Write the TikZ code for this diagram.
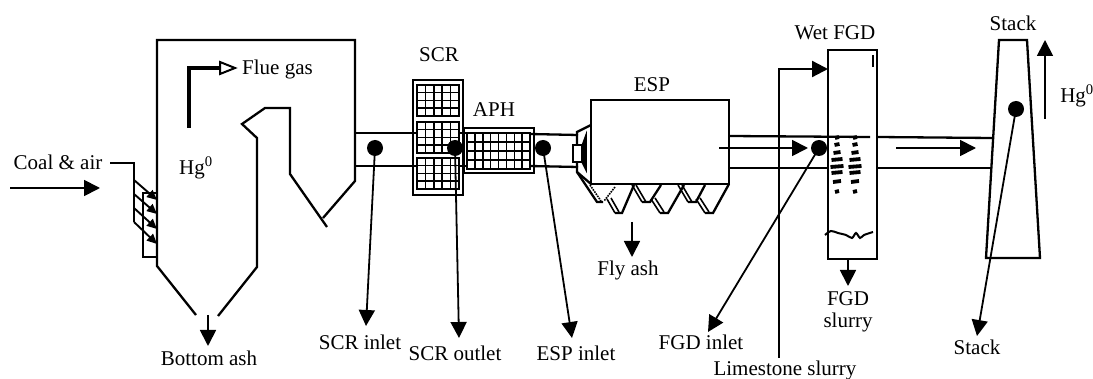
\documentclass[tikz,border=0pt]{standalone}
\usepackage{fontspec}
\setmainfont{Liberation Serif}
\usetikzlibrary{arrows.meta}
\tikzset{
  wall/.style={black, line width=2.3pt, line join=miter},
  duct/.style={black, line width=2.3pt},
  flowarrow/.style={black, line width=1.8pt, -{Triangle[length=16pt,width=16pt]}},
  burner/.style={black, line width=1.9pt, -{Triangle[length=10pt,width=9pt]}},
  hopperline/.style={black, line width=1.6pt},
  probe/.style={circle, fill=black, inner sep=0pt, minimum size=16pt},
  tag/.style={font=\fontsize{21}{24}\selectfont, text=black, inner sep=0pt},
  gridframe/.style={black, line width=2.3pt},
  gridline/.style={black, line width=1.5pt}
}
\newcommand{\catalyst}[6]{
  \foreach \k in {1,...,#5} \draw[gridline] ({#1+\k*(#3-#1)/(#5+1)},#2) -- ({#1+\k*(#3-#1)/(#5+1)},#4);
  \foreach \k in {1,...,#6} \draw[gridline] (#1,{#2+\k*(#4-#2)/(#6+1)}) -- (#3,{#2+\k*(#4-#2)/(#6+1)});
  \draw[gridframe] (#1,#2) rectangle (#3,#4);
}
\begin{document}
\begin{tikzpicture}[x=1pt, y=-1pt]
  \useasboundingbox (0,0) rectangle (1093,379);
  \draw[wall] (196,315) -- (157,266) -- (157,40) -- (355,40) -- (355,181) -- (323,218);
  \draw[wall] (327,227) -- (290,174) -- (290,108) -- (265,108) -- (242,124) -- (257,138) -- (257,267) -- (218,316);
  \draw[black, line width=4.5pt] (189,128) -- (189,68) -- (222,68);
  \draw[black, line width=2pt, fill=white] (220,62) -- (235,68) -- (220,74) -- cycle;
  \draw[wall] (110,163) -- (134,163) -- (134,222);
  \draw[wall] (157,193) -- (143,193) -- (143,257) -- (157,257);
  \draw[burner] (134,180) -- (157,200);
  \draw[burner] (134,194) -- (157,214);
  \draw[burner] (134,208) -- (157,229);
  \draw[burner] (134,222) -- (157,244);
  \draw[duct] (355,133) -- (417,133);
  \draw[duct] (355,166) -- (417,166);
  \draw[duct] (459,133) -- (467,133);
  \draw[duct] (459,166) -- (467,166);
  \draw[duct] (530,134) -- (578,135);
  \draw[duct] (530,166) -- (578,167);
  \draw[wall] (413,80) rectangle (463,195);
  \catalyst{417}{85}{459}{116}{4}{3}
  \catalyst{417}{122}{459}{153}{4}{3}
  \catalyst{417}{158}{459}{189}{4}{3}
  \draw[wall] (464,128) rectangle (534,173);
  \catalyst{467}{133}{530}{169}{7}{3}
  \draw[wall] (591,100) rectangle (729,184);
  \draw[wall] (591,125) -- (577,132) -- (577,172) -- (591,184);
  \draw[black, line width=1.8pt, fill=white] (573,145) rectangle (582,162);
  \draw[black, line width=1.5pt, fill=black] (582,146) -- (586,135) -- (586,170) -- (582,162) -- cycle;
  \draw[wall] (577,172) -- (597,202) -- (603,202);
  \draw[hopperline, densely dotted] (590,185) -- (601,201);
  \draw[hopperline, densely dotted] (615,187) -- (604,201);
  \draw[hopperline] (607,199) -- (615,213);
  \draw[hopperline] (611,198) -- (619,212);
  \draw[wall] (615,213) -- (622,213) -- (634,185);
  \draw[hopperline] (632,185) -- (642,202);
  \draw[hopperline] (636,185) -- (646,202);
  \draw[wall] (642,202) -- (650,202) -- (661,185);
  \draw[hopperline] (651,199) -- (660,213);
  \draw[hopperline] (655,198) -- (664,212);
  \draw[wall] (660,213) -- (668,213) -- (684,185);
  \draw[hopperline] (678,185) -- (688,202);
  \draw[hopperline] (682,185) -- (692,202);
  \draw[wall] (688,202) -- (696,202) -- (705,185);
  \draw[hopperline] (696,199) -- (705,213);
  \draw[hopperline] (700,198) -- (709,212);
  \draw[wall] (705,213) -- (713,213) -- (729,184);
  \draw[duct] (729,136) -- (870,137);
  \draw[duct] (729,168) -- (828,168);
  \draw[duct] (877,137) -- (992,138);
  \draw[duct] (877,168) -- (991,168);
  \draw[wall] (828,50) rectangle (877,259);
  \draw[black, line width=2pt] (873,55) -- (873,67);
  \foreach \sx in {837,855} {
    \foreach \sy/\sw in {138/4,145/5,153/7,160/11,167/13,173/11,182/8,192/4} {
      \draw[black, line width=3.8pt] ({\sx-\sw/2},\sy) -- ({\sx+\sw/2},{\sy-1});
    }
  }
  \draw[black, line width=2pt] plot[smooth] coordinates {(825,235) (831,231) (838,233) (846,235) (852,238) (856,233) (860,238) (864,235) (873,232)};
  \draw[wall] (999,40) -- (1027,40) -- (1040,258) -- (986,258) -- cycle;
  \node[probe] (scrinlet) at (375,148) {};
  \node[probe] (scroutlet) at (455,148) {};
  \node[probe] (espinlet) at (543,148) {};
  \node[probe] (fgdinlet) at (819,148) {};
  \node[probe] (stacktop) at (1016,109) {};
  \coordinate (scrinlettip) at (366,326);
  \coordinate (scroutlettip) at (459,338);
  \coordinate (espinlettip) at (572,338);
  \coordinate (fgdinlettip) at (708,332);
  \coordinate (stacktip) at (977,336);
  \draw[flowarrow] (scrinlet.center) -- (scrinlettip);
  \draw[flowarrow] (scroutlet.center) -- (scroutlettip);
  \draw[flowarrow] (espinlet.center) -- (espinlettip);
  \draw[flowarrow] (fgdinlet.center) -- (fgdinlettip);
  \draw[flowarrow] (stacktop.center) -- (stacktip);
  \coordinate (coalstart) at (10,188);
  \coordinate (coalend) at (100,188);
  \coordinate (bottomstart) at (208,315);
  \coordinate (bottomend) at (208,346);
  \coordinate (flystart) at (632,222);
  \coordinate (flyend) at (632,257);
  \coordinate (espflowstart) at (719,148);
  \coordinate (espflowend) at (808,148);
  \coordinate (stackflowstart) at (896,148);
  \coordinate (stackflowend) at (976,148);
  \coordinate (limestart) at (779,358);
  \coordinate (limeturn) at (779,69);
  \coordinate (limeend) at (828,69);
  \coordinate (slurrystart) at (848,259);
  \coordinate (slurryend) at (848,286);
  \coordinate (upstart) at (1045,119);
  \coordinate (upend) at (1045,40);
  \draw[flowarrow] (coalstart) -- (coalend);
  \draw[flowarrow] (bottomstart) -- (bottomend);
  \draw[flowarrow] (flystart) -- (flyend);
  \draw[flowarrow] (espflowstart) -- (espflowend);
  \draw[flowarrow] (stackflowstart) -- (stackflowend);
  \draw[flowarrow, line width=2.3pt] (limestart) -- (limeturn) -- (limeend);
  \draw[flowarrow] (slurrystart) -- (slurryend);
  \draw[flowarrow] (upstart) -- (upend);
  \node[tag] (coallabel) at (58,162) {Coal \& air};
  \node[tag, anchor=west] (fluelabel) at (242,69) {Flue gas};
  \node[tag] (hgboiler) at (196,168) {Hg\textsuperscript{0}};
  \node[tag] (bottomlabel) at (209,358) {Bottom ash};
  \node[tag] (scrlabel) at (439,55) {SCR};
  \node[tag] (aphlabel) at (494,110) {APH};
  \node[tag] (esplabel) at (652,85) {ESP};
  \node[tag] (wetlabel) at (835,33) {Wet FGD};
  \node[tag] (stacktoplabel) at (1013,23) {Stack};
  \node[tag] (hgstack) at (1077,96) {Hg\textsuperscript{0}};
  \node[tag] (flylabel) at (628,270) {Fly ash};
  \node[tag] (scrinletlabel) at (360,342) {SCR inlet};
  \node[tag] (scroutletlabel) at (455,353) {SCR outlet};
  \node[tag] (espinletlabel) at (576,353) {ESP inlet};
  \node[tag] (fgdinletlabel) at (701,342) {FGD inlet};
  \node[tag] (limelabel) at (785,370) {Limestone slurry};
  \node[tag] (fgdlabel) at (848,299) {FGD};
  \node[tag] (slurrylabel) at (848,322) {slurry};
  \node[tag] (stacklabel) at (977,347) {Stack};
\end{tikzpicture}
\end{document}
